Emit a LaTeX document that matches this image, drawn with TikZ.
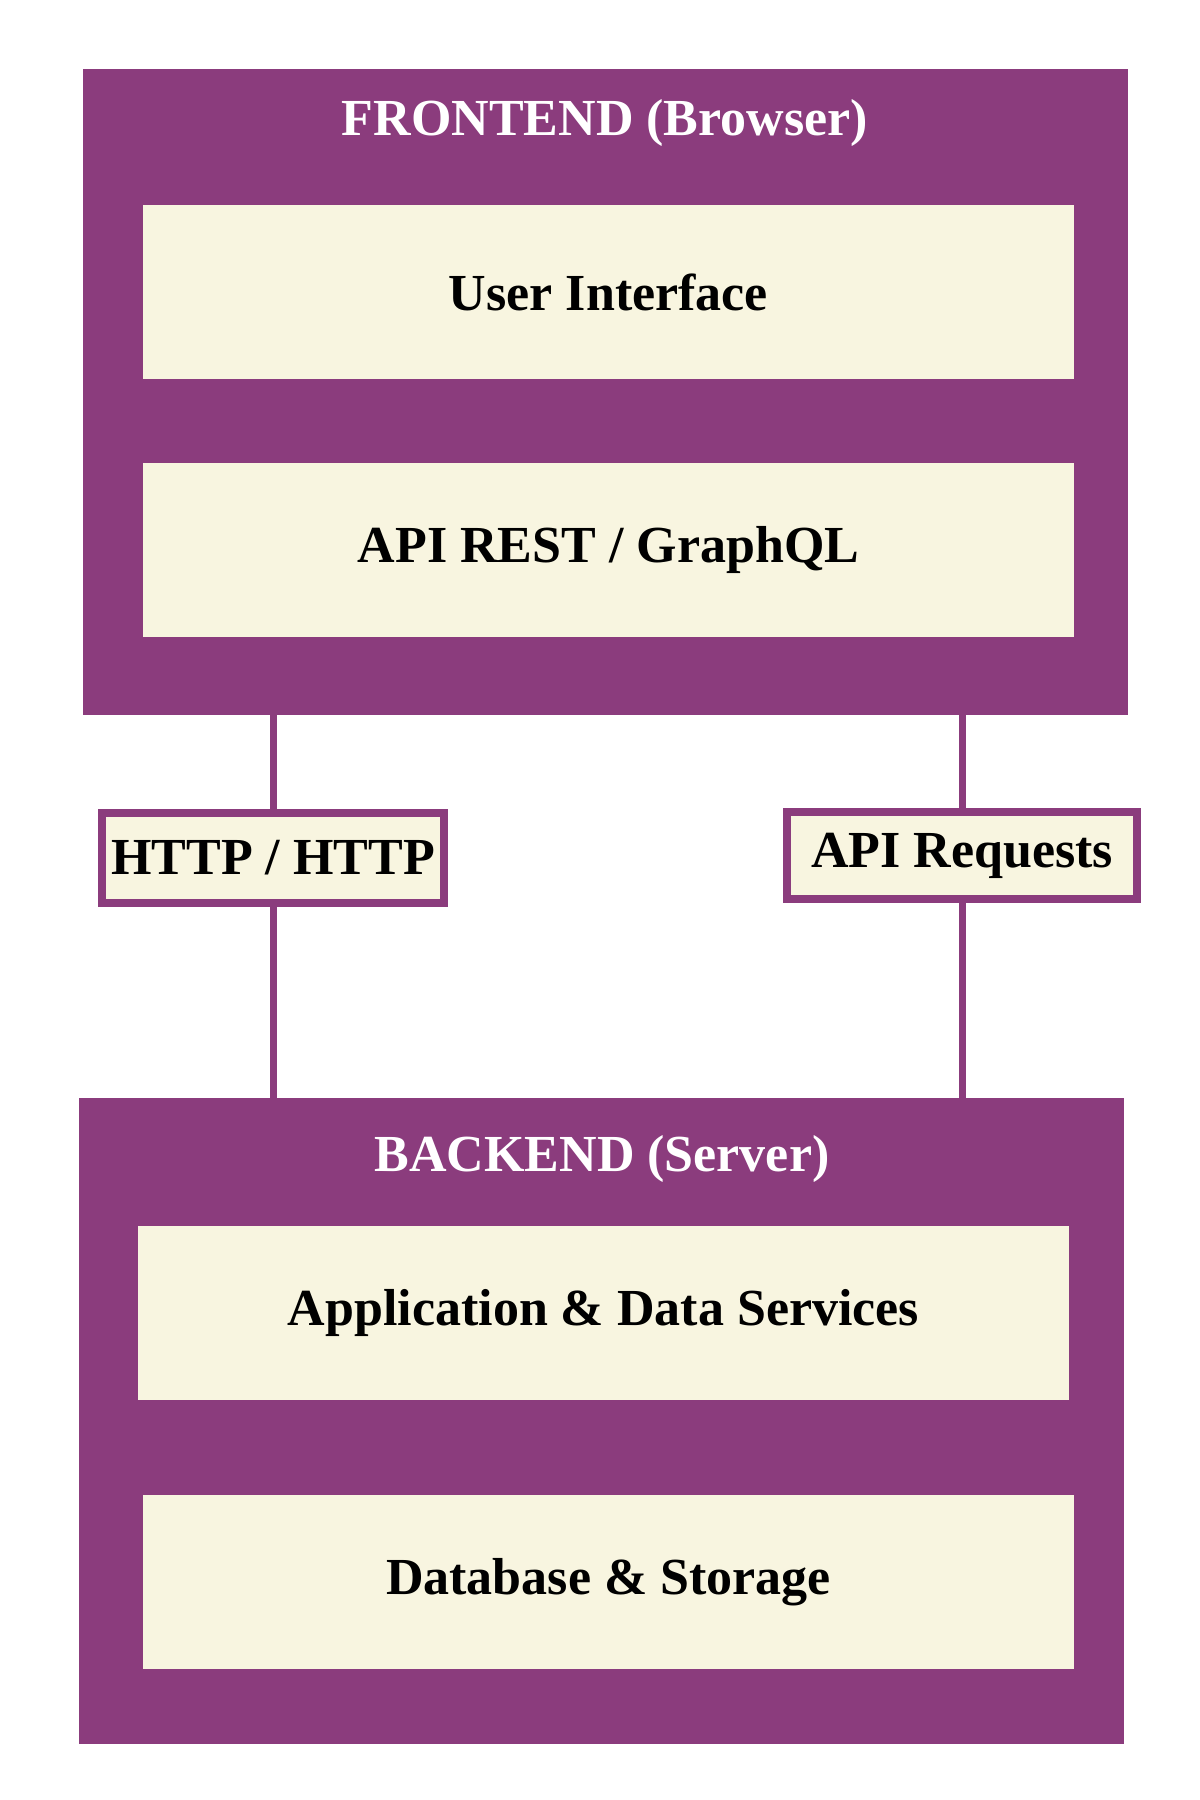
\documentclass[tikz,border=0pt]{standalone}
\usepackage{fontspec}
\setmainfont{Liberation Serif}
\usepackage{tikz}
\definecolor{plum}{HTML}{8B3C7D}
\definecolor{cream}{HTML}{F8F5E0}
\begin{document}
\begin{tikzpicture}[x=0.5pt,y=-0.5pt,
  every node/.style={font=\fontsize{26}{31}\selectfont\bfseries, inner sep=0pt, outer sep=0pt},
  tier/.style={fill=plum, minimum width=522.5pt, minimum height=323pt},
  title/.style={text=white},
  layer/.style={fill=cream, minimum width=465.5pt, minimum height=87pt},
  tag/.style={fill=cream, draw=plum, line width=4pt, minimum height=45pt},
  link/.style={draw=plum, line width=3.5pt}]
\useasboundingbox (0,0) rectangle (1200,1800);
\node [tier] (frontend) at (605.5,392) {};
\node [title] (ftitle) at (605,123) {FRONTEND (Browser)};
\node [layer] (ui) at (608.5,292) {User Interface};
\node [layer] (api) at (608.5,550) {API REST / GraphQL};
\node [tier] (backend) at (601.5,1421) {};
\node [title] (btitle) at (602,1159) {BACKEND (Server)};
\node [layer] (app) at (603.5,1313) {Application \& Data Services};
\node [layer] (db) at (608.5,1582) {Database \& Storage};
\node [tag, minimum width=171pt] (http) at (273,857.5) {HTTP / HTTP};
\node [tag, minimum width=175pt, minimum height=43.5pt] (apireq) at (962,855.5) {API Requests};
\draw [link] (frontend.south -| http) -- (http.north);
\draw [link] (http.south) -- (backend.north -| http);
\draw [link] (frontend.south -| apireq) -- (apireq.north);
\draw [link] (apireq.south) -- (backend.north -| apireq);
\end{tikzpicture}
\end{document}
